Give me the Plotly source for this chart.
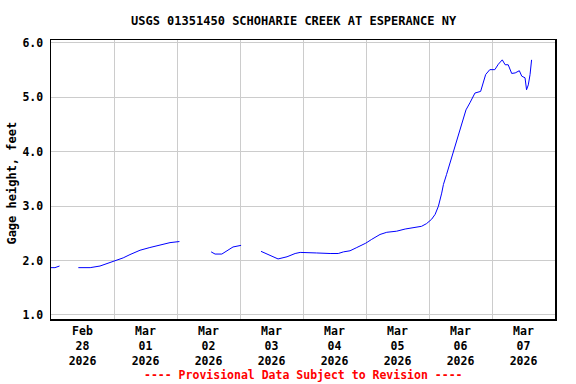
import plotly.graph_objects as go

# Gage height readings (None marks gaps in the record)
times = [
    "2026-02-28 00:00", "2026-02-28 01:30", "2026-02-28 03:15", "2026-02-28 06:00",
    "2026-02-28 10:25", "2026-02-28 14:55", "2026-02-28 18:40", "2026-02-28 21:10",
    "2026-03-01 00:00", "2026-03-01 03:30", "2026-03-01 06:05", "2026-03-01 09:55",
    "2026-03-01 13:40", "2026-03-01 17:30", "2026-03-01 21:20", "2026-03-02 00:55",
    "2026-03-02 06:00",
    "2026-03-02 13:00", "2026-03-02 14:30", "2026-03-02 17:05", "2026-03-02 19:25",
    "2026-03-02 21:20", "2026-03-03 00:25", "2026-03-03 04:00",
    "2026-03-03 08:00", "2026-03-03 11:25", "2026-03-03 14:30", "2026-03-03 17:55",
    "2026-03-03 21:00", "2026-03-03 22:55", "2026-03-04 02:00", "2026-03-04 05:10",
    "2026-03-04 10:20", "2026-03-04 13:25", "2026-03-04 15:25", "2026-03-04 17:55",
    "2026-03-04 20:30", "2026-03-04 23:55", "2026-03-05 02:10", "2026-03-05 05:20",
    "2026-03-05 07:55", "2026-03-05 11:40", "2026-03-05 14:55", "2026-03-05 18:00",
    "2026-03-05 21:10", "2026-03-05 23:05", "2026-03-06 01:00", "2026-03-06 02:20",
    "2026-03-06 03:35", "2026-03-06 04:50", "2026-03-06 05:30", "2026-03-06 06:40",
    "2026-03-06 08:00", "2026-03-06 09:20", "2026-03-06 10:35", "2026-03-06 11:50",
    "2026-03-06 13:05", "2026-03-06 14:05", "2026-03-06 15:35", "2026-03-06 17:30",
    "2026-03-06 19:40", "2026-03-06 20:40", "2026-03-06 21:35", "2026-03-06 23:10",
    "2026-03-07 01:05", "2026-03-07 02:25", "2026-03-07 03:55", "2026-03-07 05:00",
    "2026-03-07 06:10", "2026-03-07 07:30", "2026-03-07 08:50", "2026-03-07 10:25",
    "2026-03-07 11:20", "2026-03-07 12:35", "2026-03-07 13:10", "2026-03-07 13:50",
    "2026-03-07 14:30", "2026-03-07 15:05",
]
gage_ft = [
    1.87, 1.87, 1.90, None,
    1.87, 1.87, 1.90, 1.94,
    2.00, 2.05, 2.11, 2.19,
    2.24, 2.29, 2.33, 2.35,
    None,
    2.16, 2.12, 2.12, 2.19,
    2.25, 2.28, None,
    2.17, 2.09, 2.03, 2.07,
    2.13, 2.15, 2.15, 2.14,
    2.13, 2.13, 2.16, 2.18,
    2.24, 2.32, 2.39, 2.48,
    2.52, 2.54, 2.58, 2.61,
    2.63, 2.68, 2.76, 2.85,
    3.00, 3.24, 3.40, 3.58,
    3.80, 4.00, 4.22, 4.43,
    4.62, 4.77, 4.90, 5.08,
    5.11, 5.29, 5.42, 5.51,
    5.51, 5.61, 5.69, 5.60,
    5.60, 5.44, 5.45, 5.49,
    5.39, 5.36, 5.14, 5.23,
    5.42, 5.69,
]
y_ticks = [1.0, 2.0, 3.0, 4.0, 5.0, 6.0]

FONT = "DejaVu Sans Mono"

fig = go.Figure()
fig.add_trace(go.Scatter(
    x=times, y=gage_ft, mode="lines",
    line=dict(color="#0000ff", width=1),
    connectgaps=False, hoverinfo="skip",
))

fig.update_layout(
    width=576, height=384,
    margin=dict(l=51, r=21, t=40, b=65, autoexpand=False),
    paper_bgcolor="white", plot_bgcolor="white",
    showlegend=False,
    font=dict(family=FONT, size=11.5, color="black", weight="bold"),
)

fig.update_xaxes(
    type="date",
    range=["2026-02-28 00:00", "2026-03-08 00:00"],
    dtick=86400000, tick0="2026-02-28",
    ticklabelmode="period",
    tickformat="%b<br>%d<br>%Y",
    showgrid=True, gridcolor="#cccccc", gridwidth=1,
    showline=True, linecolor="black", linewidth=1.5, mirror=True,
    ticks="", ticklabelstandoff=1,
    tickfont=dict(family=FONT, size=11.5, color="black", weight="bold"),
)
fig.update_yaxes(
    range=[0.926, 6.055],
    tickvals=y_ticks, tickformat=".1f",
    showgrid=True, gridcolor="#cccccc", gridwidth=1,
    showline=True, linecolor="black", linewidth=1.5, mirror=True,
    ticks="", ticklabelstandoff=4,
    zeroline=False,
    tickfont=dict(family=FONT, size=11.5, color="black", weight="bold"),
)

fig.add_annotation(
    text="USGS 01351450 SCHOHARIE CREEK AT ESPERANCE NY",
    xref="paper", yref="paper", x=0.483, y=1.0, yshift=10,
    xanchor="center", yanchor="bottom", showarrow=False,
    font=dict(family=FONT, size=12, color="black", weight="bold"),
)
fig.add_annotation(
    text="Gage height, feet",
    xref="paper", yref="paper", x=-0.077, y=0.486, textangle=-90,
    xanchor="center", yanchor="middle", showarrow=False,
    font=dict(family=FONT, size=12, color="black", weight="bold"),
)
fig.add_annotation(
    text="---- Provisional Data Subject to Revision ----",
    xref="paper", yref="paper", x=0.5, y=0, yshift=-56,
    xanchor="center", yanchor="middle", showarrow=False,
    font=dict(family=FONT, size=11.5, color="#ff0000", weight="bold"),
)

fig.write_html(
    "out.html",
    config={"displayModeBar": False, "staticPlot": True},
    post_script="document.body.style.margin='0';document.body.style.overflow='hidden';",
)
